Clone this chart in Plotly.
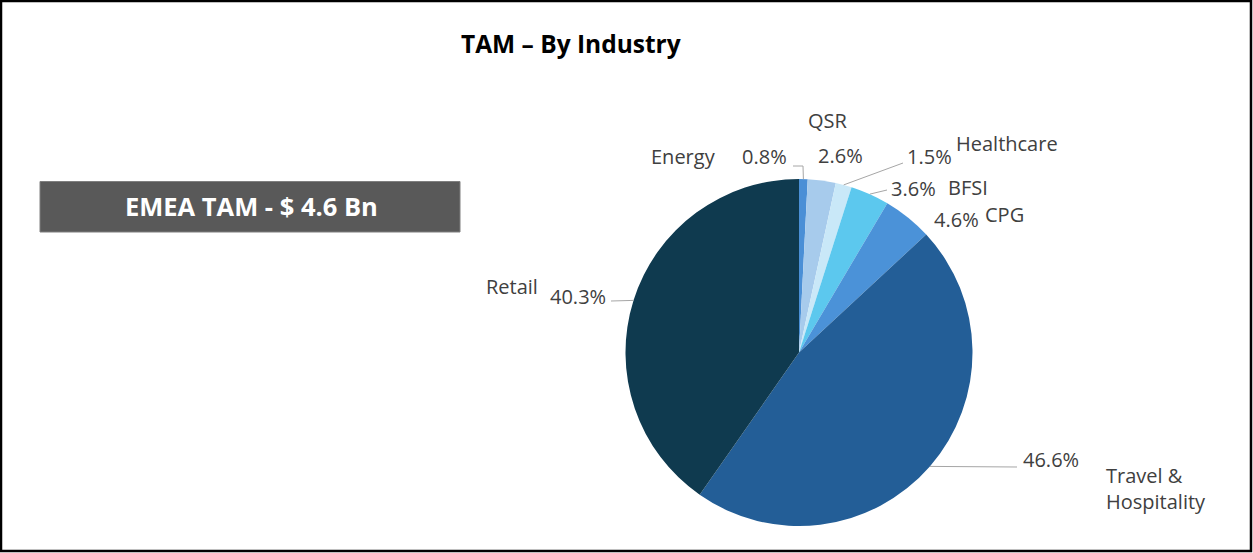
import math
import plotly.graph_objects as go

# ---- data -------------------------------------------------------------
industries = ["Energy", "QSR", "Healthcare", "BFSI", "CPG",
              "Travel & Hospitality", "Retail"]
share_pct = [0.8, 2.6, 1.5, 3.6, 4.6, 46.6, 40.3]
slice_colors = ["#4A8FD6", "#A7CBEC", "#C9E8F8", "#5CC8EE",
                "#4B92D8", "#235E97", "#0F3A4F"]
chart_title = "TAM – By Industry"
banner_text = "EMEA TAM - $ 4.6 Bn"

# ---- canvas / geometry (pixels) ---------------------------------------
W, H = 1253, 553
PIE_CX, PIE_CY, PIE_R = 799, 352.5, 173.5
LABEL_FONT = dict(family="Open Sans, Arial, sans-serif", size=20, color="#404040")
LEADER = dict(color="#A6A6A6", width=1)

# label placement: where the name and the percentage sit, and the leader
# line's path after it leaves the slice edge
placement = {
    "Energy": dict(name=(718, 156, "right"), pct=(789, 156, "right"),
                   leader=[(803, 166), (793, 166)]),
    "QSR": dict(name=(828, 120, "center"), pct=(840, 155, "center"), leader=None),
    "Healthcare": dict(name=(954, 143, "left"), pct=(905, 156, "left"),
                       leader=[(903, 163)]),
    "BFSI": dict(name=(946, 187, "left"), pct=(889, 188, "left"),
                 leader=[(887, 190)]),
    "CPG": dict(name=(983, 214, "left"), pct=(932, 219, "left"), leader=None),
    "Travel & Hospitality": dict(name=(1104, 488, "left"), pct=(1021, 459, "left"),
                                 leader=[(1017, 467)]),
    "Retail": dict(name=(540, 286, "right"), pct=(608, 296, "right"),
                   leader=[(611, 301)]),
}

fig = go.Figure()

# invisible pixel-space axes used for the text and leader lines
fig.add_trace(go.Scatter(x=[0, W], y=[0, H], mode="markers",
                         marker=dict(opacity=0), hoverinfo="skip", showlegend=False))

fig.add_trace(go.Pie(
    labels=industries,
    values=share_pct,
    sort=False,
    direction="clockwise",
    rotation=0,
    marker=dict(colors=slice_colors, line=dict(width=0)),
    textinfo="none",
    hoverinfo="label+percent",
    showlegend=False,
    domain=dict(x=[(PIE_CX - PIE_R) / W, (PIE_CX + PIE_R) / W],
                y=[(H - PIE_CY - PIE_R) / H, (H - PIE_CY + PIE_R) / H]),
))

annotations = []
shapes = []

# leader lines start at each slice's mid-angle on the rim
total = sum(share_pct)
cum = 0.0
for name, val in zip(industries, share_pct):
    mid = (cum + val / 2) / total * 2 * math.pi
    cum += val
    p = placement[name]
    ax = PIE_CX + PIE_R * math.sin(mid)
    ay = PIE_CY - PIE_R * math.cos(mid)
    if p["leader"]:
        pts = [(ax, ay)] + p["leader"]
        path = "M " + " L ".join(f"{x:.1f},{y:.1f}" for x, y in pts)
        shapes.append(dict(type="path", path=path, xref="x", yref="y",
                           line=LEADER, layer="above"))
    nx, ny, na = p["name"]
    txt = name.replace("Travel & ", "Travel &<br>")
    annotations.append(dict(x=nx, y=ny, xref="x", yref="y", text=txt,
                            showarrow=False, xanchor=na, yanchor="middle",
                            align="left", font=LABEL_FONT))
    px, py, pa = p["pct"]
    annotations.append(dict(x=px, y=py, xref="x", yref="y", text=f"{val:.1f}%",
                            showarrow=False, xanchor=pa, yanchor="middle",
                            font=LABEL_FONT))

# title
annotations.append(dict(x=571, y=43, xref="x", yref="y", text=f"<b>{chart_title}</b>",
                        showarrow=False, xanchor="center", yanchor="middle",
                        font=dict(family="Open Sans, Arial, sans-serif", size=24.5,
                                  color="#000000")))

# banner box with total
shapes.append(dict(type="rect", xref="x", yref="y", x0=40, x1=460, y0=181.5, y1=232,
                   fillcolor="#595959", line=dict(color="#7F7F7F", width=1),
                   layer="below"))
annotations.append(dict(x=251, y=206, xref="x", yref="y", text=f"<b>{banner_text}</b>",
                        showarrow=False, xanchor="center", yanchor="middle",
                        font=dict(family="Open Sans, Arial, sans-serif", size=25.5,
                                  color="#FFFFFF")))

# outer frame
shapes.append(dict(type="rect", xref="x", yref="y", x0=1, x1=1251, y0=1, y1=551,
                   line=dict(color="#000000", width=2.5), fillcolor="rgba(0,0,0,0)",
                   layer="above"))

fig.update_layout(
    width=W, height=H,
    margin=dict(l=0, r=0, t=0, b=0),
    paper_bgcolor="#FFFFFF",
    plot_bgcolor="#FFFFFF",
    xaxis=dict(range=[0, W], visible=False, domain=[0, 1], fixedrange=True),
    yaxis=dict(range=[H, 0], visible=False, domain=[0, 1], fixedrange=True),
    annotations=annotations,
    shapes=shapes,
)

fig.write_html("out.html", config=dict(displayModeBar=False))
